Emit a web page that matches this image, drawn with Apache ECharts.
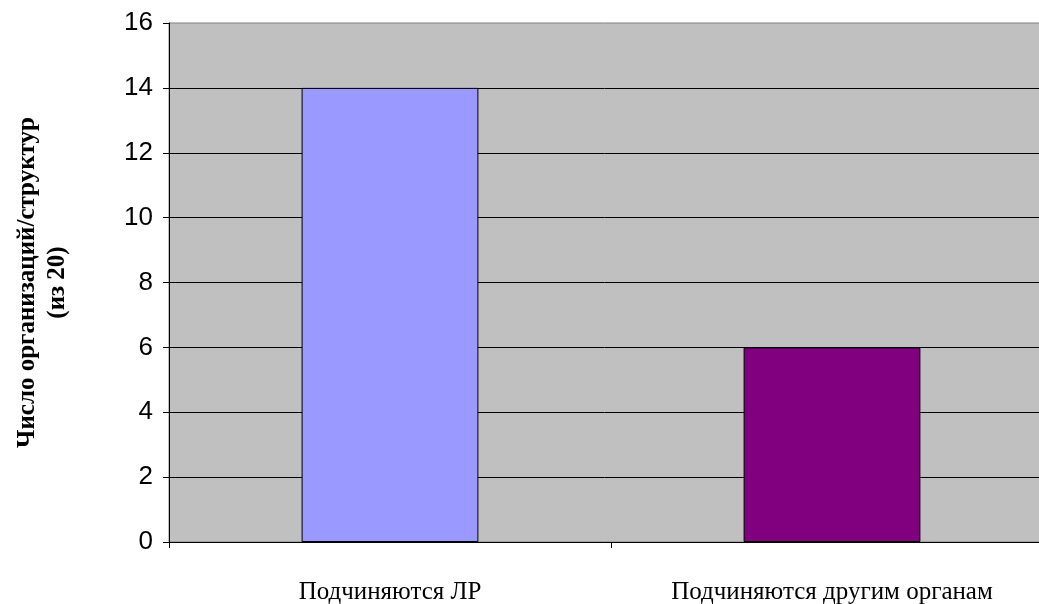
<!DOCTYPE html>
<html>
<head>
<meta charset="utf-8">
<script src="https://cdn.jsdelivr.net/npm/echarts@6/dist/echarts.min.js"></script>
<style>html,body{margin:0;padding:0;background:#fff}#c{width:1039px;height:604px}</style>
</head>
<body>
<div id="c"></div>
<script>
const categories = ['Подчиняются ЛР', 'Подчиняются другим органам'];
const values = [14, 6];
const barColors = ['#9999FF', '#800080'];
const yAxisName = 'Число организаций/структур\n(из 20)';

const chart = echarts.init(document.getElementById('c'), null, {renderer: 'canvas'});
chart.setOption({
  animation: false,
  grid: {left: 169, top: 23, width: 884, bottom: 62, containLabel: false, outerBoundsMode: 'none',
         show: true, backgroundColor: '#C0C0C0', borderColor: '#808080', borderWidth: 1},
  xAxis: {
    type: 'category', data: categories,
    axisLine: {lineStyle: {color: '#000', width: 1}},
    axisTick: {show: true, length: 6, lineStyle: {color: '#000'}},
    axisLabel: {fontFamily: 'Liberation Serif', fontSize: 25, color: '#000', margin: 38}
  },
  yAxis: {
    type: 'value', min: 0, max: 16, interval: 2,
    name: yAxisName, nameLocation: 'middle', nameRotate: 90, nameGap: 96,
    nameTextStyle: {fontFamily: 'Liberation Serif', fontWeight: 'bold', fontSize: 25, color: '#000', lineHeight: 30},
    axisLine: {show: true, lineStyle: {color: '#000', width: 1}},
    axisTick: {show: true, length: 6, lineStyle: {color: '#000'}},
    axisLabel: {fontFamily: 'Liberation Sans', fontSize: 26, color: '#000', margin: 16},
    splitLine: {show: true, showMaxLine: false, lineStyle: {color: '#000', width: 1}}
  },
  series: [{
    type: 'bar', barWidth: '40%',
    data: values.map((v, i) => ({value: v, itemStyle: {color: barColors[i]}})),
    itemStyle: {borderColor: '#000', borderWidth: 1}
  }]
});
</script>
</body>
</html>
